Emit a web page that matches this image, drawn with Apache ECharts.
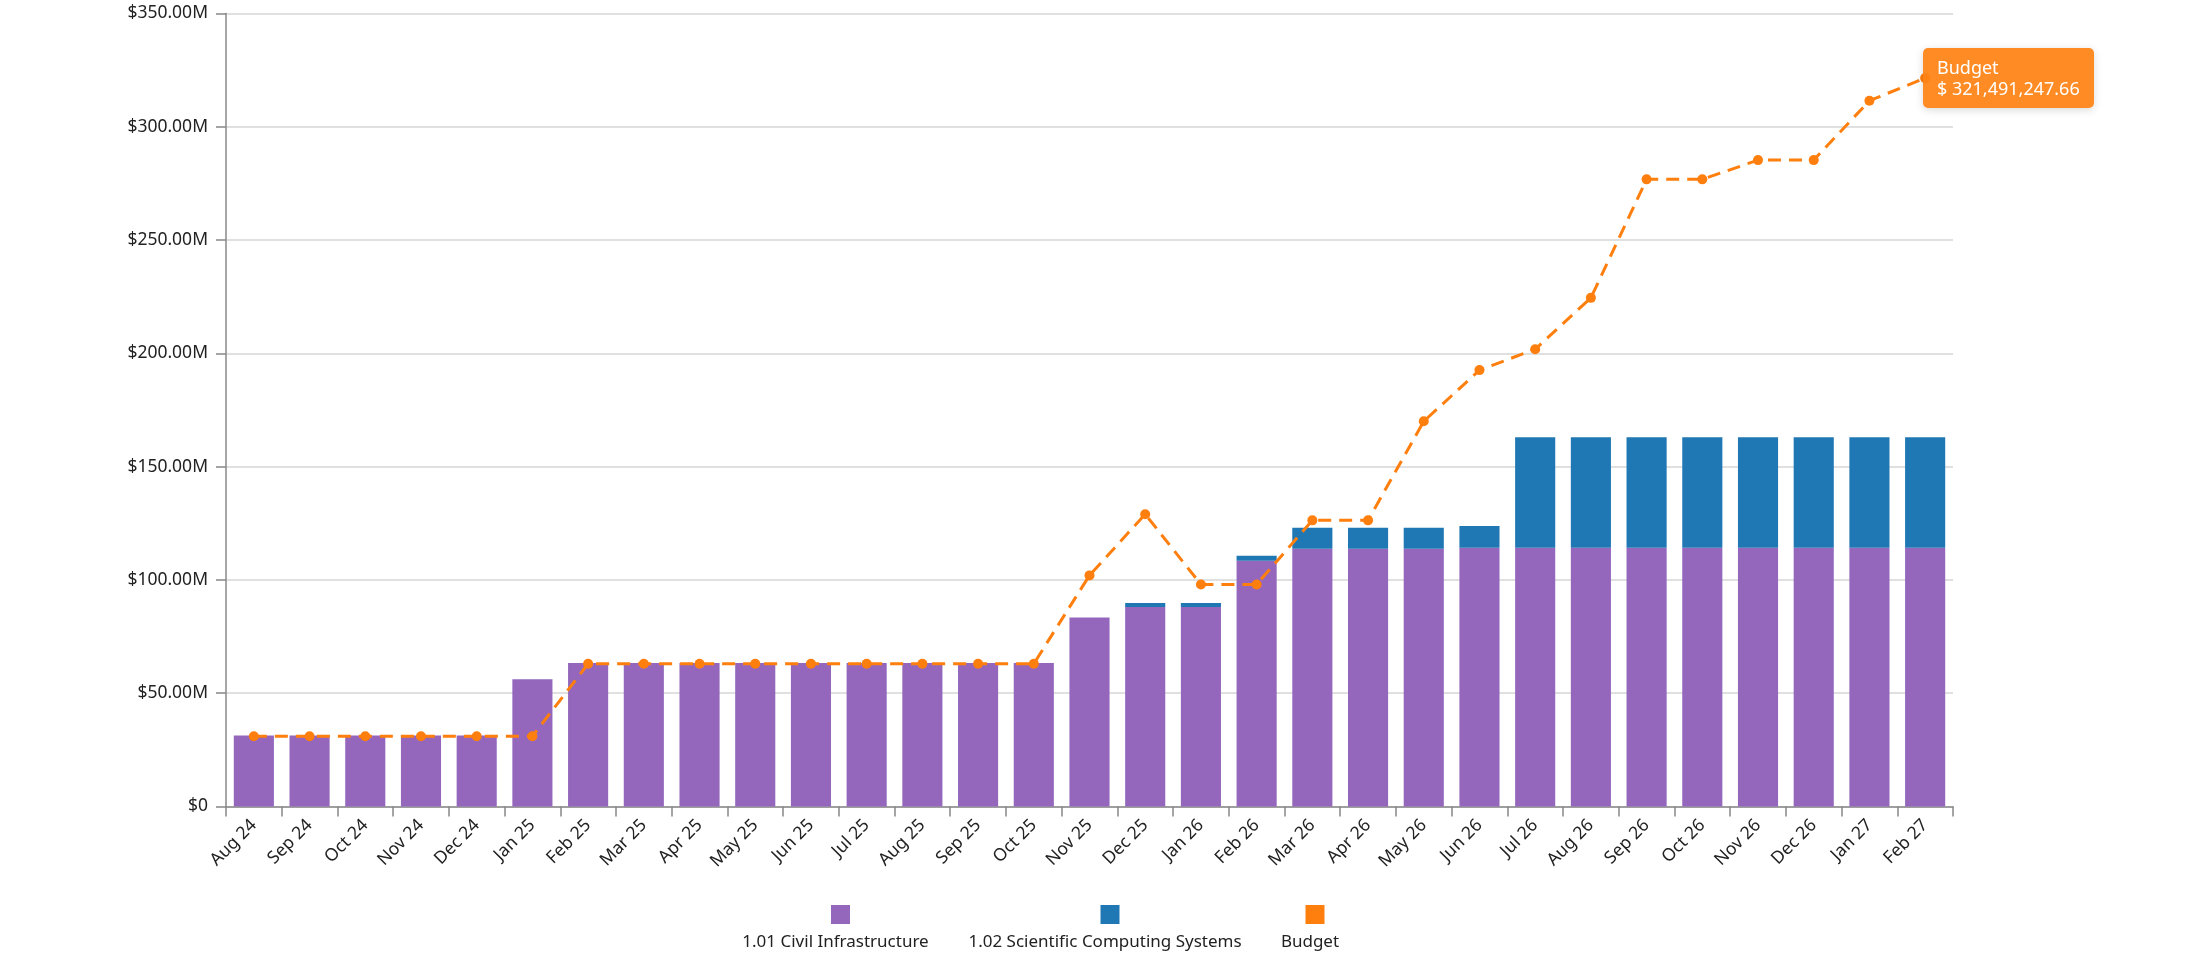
<!DOCTYPE html>
<html>
<head>
<meta charset="utf-8">
<script src="https://cdn.jsdelivr.net/npm/echarts@6/dist/echarts.min.js"></script>
<style>
html,body{margin:0;padding:0;background:#fff;}
#chart{width:2187px;height:968px;}
</style>
</head>
<body>
<div id="chart"></div>
<script>
const categories = ['Aug 24','Sep 24','Oct 24','Nov 24','Dec 24','Jan 25','Feb 25','Mar 25','Apr 25','May 25','Jun 25','Jul 25','Aug 25','Sep 25','Oct 25','Nov 25','Dec 25','Jan 26','Feb 26','Mar 26','Apr 26','May 26','Jun 26','Jul 26','Aug 26','Sep 26','Oct 26','Nov 26','Dec 26','Jan 27','Feb 27'];

// values in millions of dollars
const civilInfrastructure = [31.3,31.3,31.3,31.3,31.3,56.2,63.3,63.3,63.3,63.3,63.3,63.3,63.3,63.3,63.3,83.4,88.0,88.0,108.5,113.8,113.8,113.8,114.2,114.2,114.2,114.2,114.2,114.2,114.2,114.2,114.2];
const scientificComputing = [0,0,0,0,0,0,0,0,0,0,0,0,0,0,0,0,1.8,1.8,2.2,9.2,9.2,9.2,9.6,48.8,48.8,48.8,48.8,48.8,48.8,48.8,48.8];
const budget = [31.0,31.0,31.0,31.0,31.0,31.0,63.0,63.0,63.0,63.0,63.0,63.0,63.0,63.0,63.0,102.0,129.0,98.0,98.0,126.3,126.3,170.0,192.6,201.8,224.5,276.8,276.8,285.3,285.3,311.5,321.49124766];

const seriesNames = ['1.01 Civil Infrastructure','1.02 Scientific Computing Systems','Budget'];
const seriesColors = ['#9467bd','#1f77b4','#ff7f0e'];

const FONT = '"Noto Sans", "Open Sans", sans-serif';
const toDollars = arr => arr.map(v => Math.round(v * 1e6 * 100) / 100);

const chart = echarts.init(document.getElementById('chart'));

function fmtMoney(v){
  return v.toLocaleString('en-US',{minimumFractionDigits:2, maximumFractionDigits:2});
}

const legendLefts = [826, 1095.5, 1300.5];
const legends = seriesNames.map((n, i) => ({
  data: [n],
  left: legendLefts[i],
  top: 900,
  icon: 'rect',
  itemWidth: 19,
  itemHeight: 19,
  formatter: () => '',
  selectedMode: false
}));

const legendTexts = seriesNames.map((n, i) => ({
  type: 'text',
  x: legendLefts[i] + 9.5,
  y: 942,
  style: {
    text: n,
    fill: '#222',
    font: '17px ' + FONT,
    textAlign: 'center',
    textVerticalAlign: 'middle'
  }
}));

const option = {
  animation: false,
  color: seriesColors,
  textStyle: { fontFamily: FONT },
  grid: { left: 226, right: 234, top: 13.5, bottom: 161.5, containLabel: false },
  legend: legends,
  graphic: legendTexts,
  tooltip: {
    trigger: 'item',
    alwaysShowContent: true,
    backgroundColor: 'rgba(255,130,20,0.93)',
    borderColor: 'rgba(255,130,20,0.93)',
    borderWidth: 0,
    borderRadius: 5,
    padding: [9, 14, 9, 14],
    extraCssText: 'box-shadow: 0 2px 8px rgba(0,0,0,0.15); line-height:21px;',
    textStyle: { color: '#fff', fontSize: 18, fontFamily: FONT },
    position: function (point, params, dom, rect, size) {
      return [point[0] - 2, point[1] - size.contentSize[1] / 2];
    },
    formatter: function (p) {
      return p.seriesName + '<br/>$ ' + fmtMoney(p.value);
    }
  },
  xAxis: {
    type: 'category',
    data: categories,
    boundaryGap: true,
    axisLine: { show: true, lineStyle: { color: '#888', width: 1.5 } },
    axisTick: { show: true, length: 10, lineStyle: { color: '#888', width: 1.5 } },
    axisLabel: { rotate: 45, interval: 0, fontSize: 17.5, color: '#222', margin: 16, fontFamily: FONT }
  },
  yAxis: {
    type: 'value',
    min: 0,
    max: 350e6,
    interval: 50e6,
    axisLine: { show: true, lineStyle: { color: '#888', width: 1.5 } },
    axisTick: { show: true, length: 10, lineStyle: { color: '#888', width: 1.5 } },
    splitLine: { show: true, lineStyle: { color: '#d6d6d6', width: 1.5 } },
    axisLabel: {
      fontSize: 17.5, color: '#222', margin: 18, fontFamily: FONT,
      formatter: v => v === 0 ? '$0' : '$' + (v / 1e6).toFixed(2) + 'M'
    }
  },
  series: [
    {
      name: seriesNames[0], type: 'bar', stack: 'cost',
      data: toDollars(civilInfrastructure),
      barWidth: '72%',
      itemStyle: { color: seriesColors[0] },
      tooltip: { show: false }
    },
    {
      name: seriesNames[1], type: 'bar', stack: 'cost',
      data: toDollars(scientificComputing),
      barWidth: '72%',
      itemStyle: { color: seriesColors[1] },
      tooltip: { show: false }
    },
    {
      name: seriesNames[2], type: 'line',
      data: toDollars(budget),
      symbol: 'circle', symbolSize: 10,
      lineStyle: { color: seriesColors[2], width: 3, type: [13, 8] },
      itemStyle: { color: seriesColors[2] },
      z: 5
    }
  ]
};

chart.setOption(option);
setTimeout(function(){
  chart.dispatchAction({ type: 'showTip', seriesIndex: 2, dataIndex: categories.length - 1 });
}, 50);
</script>
</body>
</html>
